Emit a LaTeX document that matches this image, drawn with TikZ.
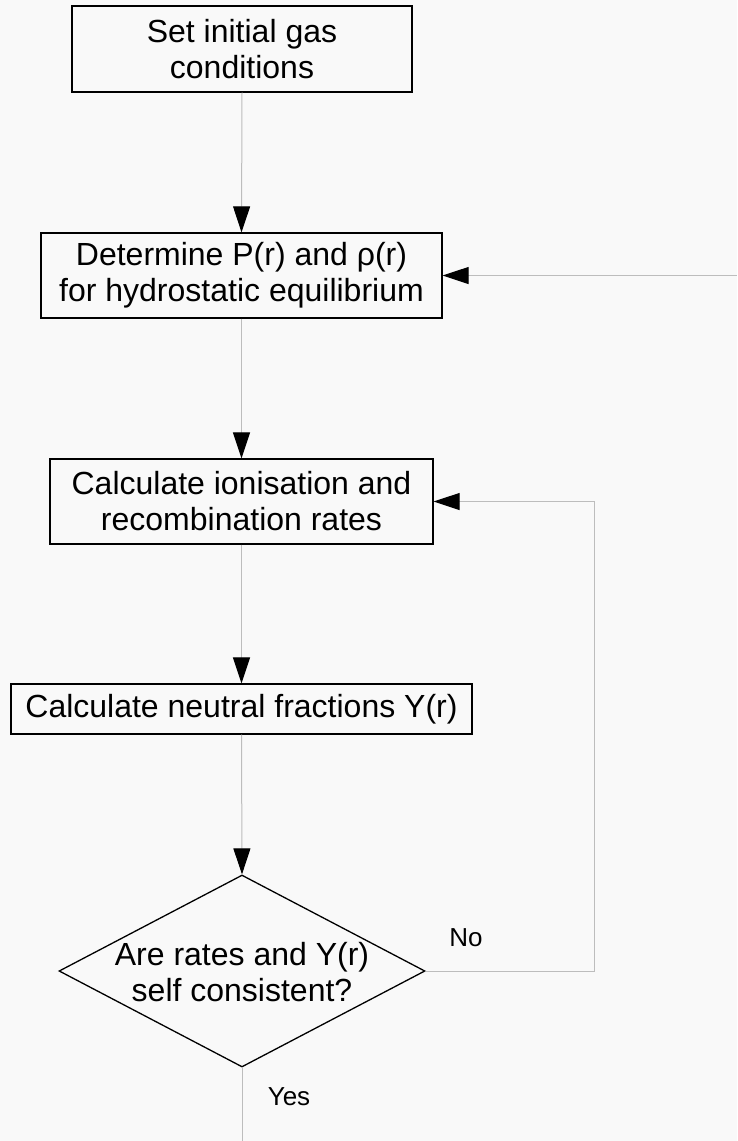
\documentclass[tikz,border=0pt]{standalone}
\usepackage{fontspec}
\setmainfont{Liberation Sans}
\usetikzlibrary{arrows.meta,shapes.geometric}
\definecolor{bgc}{HTML}{F9F9F9}
\definecolor{conncol}{HTML}{BDBDBD}
\tikzset{
  box/.style={draw=black, line width=1.3pt, fill=bgc, align=center, inner sep=0pt,
    font=\fontsize{32}{36}\selectfont},
  conn/.style={draw=conncol, line width=1pt,
    -{Triangle[length=26pt,width=17pt,color=black]}},
  plain/.style={draw=conncol, line width=1pt},
  lbl/.style={font=\fontsize{26}{30}\selectfont, inner sep=0pt}
}
\begin{document}
\begin{tikzpicture}[x=1pt,y=-1pt]
\fill[bgc] (0,0) rectangle (737,1141);
\useasboundingbox (0,0) rectangle (737,1141);
\node[box, minimum width=340pt, minimum height=86pt] (b1) at (242,49) {Set initial gas\\conditions};
\node[box, minimum width=401pt, minimum height=85pt] (b2) at (241.5,275.5) {Determine P(r) and ρ(r)\\for hydrostatic equilibrium};
\node[box, minimum width=383pt, minimum height=85pt] (b3) at (241.5,501.5) {Calculate ionisation and\\recombination rates};
\node[box, minimum width=461pt, minimum height=50pt] (b4) at (241.5,709) {Calculate neutral fractions Y(r)};
\node[draw=black, line width=1.3pt, shape=diamond, inner sep=0pt, minimum width=366pt, minimum height=192pt] (d) at (242,971) {};
\node[align=center, inner sep=0pt, font=\fontsize{32}{36}\selectfont] (dt) at (242,972) {Are rates and Y(r)\\self consistent?};
\coordinate (rin) at (737,275.5);
\coordinate (lp) at (594,971);
\coordinate (bend) at (242,1141);
\draw[conn] (b1.south) -- (b2.north);
\draw[conn] (b2.south) -- (b3.north);
\draw[conn] (b3.south) -- (b4.north);
\draw[conn] (b4.south) -- (d.north);
\draw[conn] (rin) -- (b2.east);
\draw[conn] (d.east) -- (lp) |- (b3.east);
\draw[plain] (d.south) -- (bend);
\node[lbl] (no) at (466,938) {No};
\node[lbl] (yes) at (289,1097) {Yes};
\end{tikzpicture}
\end{document}
